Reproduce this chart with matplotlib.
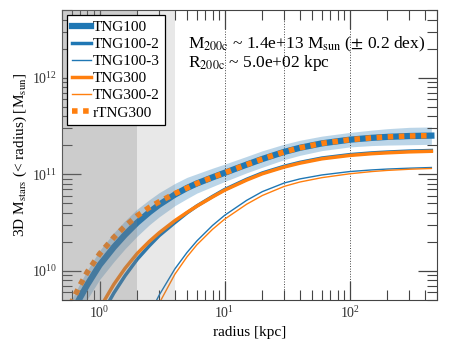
import numpy as np
import matplotlib
matplotlib.use("Agg")
import matplotlib.pyplot as plt

# ---- data (log10 of enclosed stellar mass [Msun]) ----
radius = [0.5, 0.6, 0.7, 0.8, 1.0, 1.3, 1.6, 2.0, 2.5, 3.0, 4.0, 5.0, 6.0, 8.0,
          10, 15, 20, 30, 40, 60, 100, 150, 200, 300, 450]

tng100 = [9.35, 9.56, 9.725, 9.86, 10.06, 10.245, 10.375, 10.50, 10.607, 10.685, 10.79, 10.858,
          10.905, 10.968, 11.015, 11.10, 11.158, 11.232, 11.274, 11.32, 11.358, 11.377, 11.387, 11.396, 11.40]
tng100_dex = [0.15, 0.15, 0.15, 0.15, 0.15, 0.15, 0.145, 0.14, 0.13, 0.125, 0.115, 0.11,
              0.10, 0.095, 0.09, 0.085, 0.085, 0.08, 0.078, 0.075, 0.075, 0.08, 0.085, 0.09, 0.09]
tng100_2 = [8.6, 8.85, 9.05, 9.22, 9.51, 9.77, 9.95, 10.12, 10.26, 10.365, 10.50, 10.60,
            10.672, 10.77, 10.842, 10.948, 11.013, 11.083, 11.123, 11.168, 11.203, 11.221, 11.23, 11.24, 11.246]
tng100_3 = [7.3, 7.55, 7.8, 8.0, 8.35, 8.7, 8.98, 9.28, 9.55, 9.75, 10.02, 10.19,
            10.31, 10.47, 10.575, 10.73, 10.82, 10.91, 10.952, 10.993, 11.028, 11.045, 11.054, 11.063, 11.07]
tng300 = [8.72, 8.97, 9.17, 9.34, 9.61, 9.86, 10.027, 10.18, 10.305, 10.395, 10.52, 10.605,
          10.67, 10.765, 10.835, 10.94, 11.005, 11.075, 11.115, 11.16, 11.195, 11.213, 11.222, 11.232, 11.238]
tng300_2 = [7.2, 7.45, 7.7, 7.9, 8.25, 8.6, 8.9, 9.18, 9.46, 9.665, 9.965, 10.145,
            10.27, 10.43, 10.535, 10.69, 10.78, 10.875, 10.92, 10.965, 11.005, 11.028, 11.04, 11.052, 11.06]
rtng300 = [9.44, 9.68, 9.855, 9.99, 10.175, 10.346, 10.463, 10.57, 10.657, 10.716, 10.80, 10.858,
           10.905, 10.968, 11.015, 11.10, 11.158, 11.232, 11.274, 11.32, 11.358, 11.377, 11.387, 11.396, 11.40]

halo_text = ["M$_{\\rm 200c}$ ~ 1.4e+13 M$_{\\rm sun}$ ($\\pm$ 0.2 dex)",
             "R$_{\\rm 200c}$ ~ 5.0e+02 kpc"]

# ---- style ----
plt.rcParams["font.family"] = ["Liberation Serif", "DejaVu Serif"]
plt.rcParams["mathtext.fontset"] = "stix"
plt.rcParams["axes.edgecolor"] = "#444444"
plt.rcParams["xtick.color"] = "#444444"
plt.rcParams["ytick.color"] = "#444444"
plt.rcParams["xtick.labelcolor"] = "#333333"
plt.rcParams["ytick.labelcolor"] = "#333333"

c_blue = "#1f77b4"
c_orange = "#ff7f0e"

fig = plt.figure(figsize=(4.52, 3.5), dpi=100)
ax = fig.add_axes([0.137, 0.143, 0.830, 0.828])

r = np.array(radius)
m = lambda v: 10 ** np.array(v)

# band + curves
ax.fill_between(r, m(np.array(tng100) - np.array(tng100_dex)),
                m(np.array(tng100) + np.array(tng100_dex)),
                color=c_blue, alpha=0.3, lw=0, zorder=1)
ax.plot(r, m(tng100), color=c_blue, lw=4.5, label="TNG100", zorder=3)
ax.plot(r, m(tng100_2), color=c_blue, lw=2.5, label="TNG100-2", zorder=3)
ax.plot(r, m(tng100_3), color=c_blue, lw=1.0, label="TNG100-3", zorder=3)
ax.plot(r, m(tng300), color=c_orange, lw=2.5, label="TNG300", zorder=3)
ax.plot(r, m(tng300_2), color=c_orange, lw=1.0, label="TNG300-2", zorder=3)
ax.plot(r, m(rtng300), color=c_orange, lw=4.0, ls=(0, (1, 1)), label="rTNG300", zorder=4)

# resolution shading (drawn over the curves)
ax.axvspan(0.1, 2.0, color="#808080", alpha=0.4, lw=0, zorder=5)
ax.axvspan(2.0, 4.0, color="#808080", alpha=0.18, lw=0, zorder=5)

for xv in [10, 30, 100]:
    ax.axvline(xv, color="#444444", lw=0.7, ls=":", zorder=2)

ax.set_xscale("log")
ax.set_yscale("log")
ax.set_xlim(0.5, 500)
ax.set_ylim(5e9, 5e12)

ax.tick_params(which="both", direction="in", top=True, right=True, labelsize=10)
ax.tick_params(which="major", length=14, width=0.9)
ax.tick_params(which="minor", length=7, width=0.8)

ax.set_xlabel("radius [kpc]", fontsize=11, labelpad=4)
ax.set_ylabel("3D M$_{\\rm stars}$ (< radius) [M$_{\\rm sun}$]", fontsize=11, labelpad=2)

ax.text(0.336, 0.869, halo_text[0], transform=ax.transAxes, fontsize=12.5, va="baseline", zorder=6)
ax.text(0.336, 0.803, halo_text[1], transform=ax.transAxes, fontsize=12.5, va="baseline", zorder=6)

leg = ax.legend(loc="upper left", fontsize=11, frameon=True, fancybox=False,
                edgecolor="black", framealpha=1, labelspacing=0.22, handlelength=1.2,
                handletextpad=0.15, borderpad=0.35, borderaxespad=0.33)
leg.get_frame().set_linewidth(0.9)
leg.set_zorder(10)

fig.savefig("out.png", dpi=100)
